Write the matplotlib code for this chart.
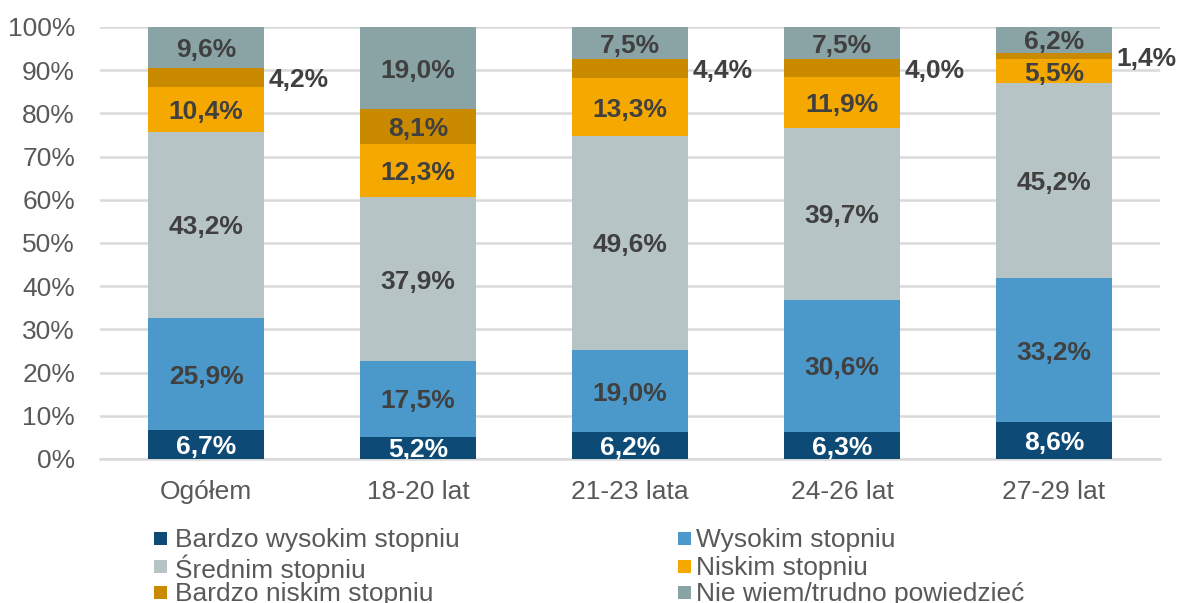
import matplotlib
matplotlib.use("Agg")
import matplotlib.pyplot as plt
from matplotlib.patches import Rectangle
import numpy as np

plt.rcParams['font.family'] = ['Liberation Sans', 'DejaVu Sans']

categories = ["Ogółem", "18-20 lat", "21-23 lata", "24-26 lat", "27-29 lat"]
series_names = ["Bardzo wysokim stopniu", "Wysokim stopniu", "Średnim stopniu",
                "Niskim stopniu", "Bardzo niskim stopniu", "Nie wiem/trudno powiedzieć"]
bardzo_wysokim = [6.7, 5.2, 6.2, 6.3, 8.6]
wysokim = [25.9, 17.5, 19.0, 30.6, 33.2]
srednim = [43.2, 37.9, 49.6, 39.7, 45.2]
niskim = [10.4, 12.3, 13.3, 11.9, 5.5]
bardzo_niskim = [4.2, 8.1, 4.4, 4.0, 1.4]
nie_wiem = [9.6, 19.0, 7.5, 7.5, 6.2]
yticks = [0, 10, 20, 30, 40, 50, 60, 70, 80, 90, 100]

colors = ["#0D4A76", "#4A99CA", "#B7C4C5", "#F5A900", "#C98A00", "#8AA3A5"]
label_colors = ["white", "#404040", "#404040", "#404040", "#404040", "#404040"]

data = [bardzo_wysokim, wysokim, srednim, niskim, bardzo_niskim, nie_wiem]

W, H = 1178, 603
fig = plt.figure(figsize=(W / 100, H / 100), dpi=100)
ax = fig.add_axes([100 / W, 1 - 459 / H, 1060 / W, 432 / H])

x = np.arange(len(categories))
width = 0.55
bottom = np.zeros(len(categories))
for i, (vals, name) in enumerate(zip(data, series_names)):
    vals = np.array(vals)
    ax.bar(x, vals, width, bottom=bottom, color=colors[i], label=name, zorder=3)
    for j, v in enumerate(vals):
        lbl = f"{v:.1f}".replace(".", ",") + "%"
        yc = bottom[j] + v / 2
        if i == 4 and v < 6:
            ax.text(x[j] + width / 2 + 0.02, yc, lbl, ha="left", va="center_baseline",
                    fontsize=19, fontweight="bold", color="#404040", zorder=4)
        else:
            ax.text(x[j], yc, lbl, ha="center", va="center_baseline", fontsize=19,
                    fontweight="bold", color=label_colors[i], zorder=4, clip_on=True)
    bottom += vals

ax.set_xlim(-0.5, len(categories) - 0.5)
ax.set_ylim(0, 100)
ax.set_yticks(yticks)
ax.set_yticklabels([f"{t}%" for t in yticks])
ax.set_xticks(x)
ax.set_xticklabels(categories)
ax.tick_params(axis="both", length=0, labelsize=19, colors="#595959")
ax.tick_params(axis="x", pad=15)
ax.tick_params(axis="y", pad=18)
ax.yaxis.grid(True, color="#D9D9D9", linewidth=1.8, zorder=0)
for s in ["top", "right", "left"]:
    ax.spines[s].set_visible(False)
ax.spines["bottom"].set_color("#D9D9D9")
ax.spines["bottom"].set_linewidth(1.8)

# Legend (two columns, filled row-wise)
col_marker_x = [154, 678]
col_text_x = [175, 696]
row_y = [538, 566, 592]
msize = 13
for k, name in enumerate(series_names):
    r, c = k // 2, k % 2
    fig.patches.append(Rectangle(((col_marker_x[c]) / W, 1 - (row_y[r] + msize / 2) / H),
                                 msize / W, msize / H, transform=fig.transFigure,
                                 facecolor=colors[k], edgecolor="none"))
    fig.text(col_text_x[c] / W, 1 - row_y[r] / H, name, ha="left", va="center_baseline",
             fontsize=19, color="#595959")

fig.savefig("out.png", dpi=100)
